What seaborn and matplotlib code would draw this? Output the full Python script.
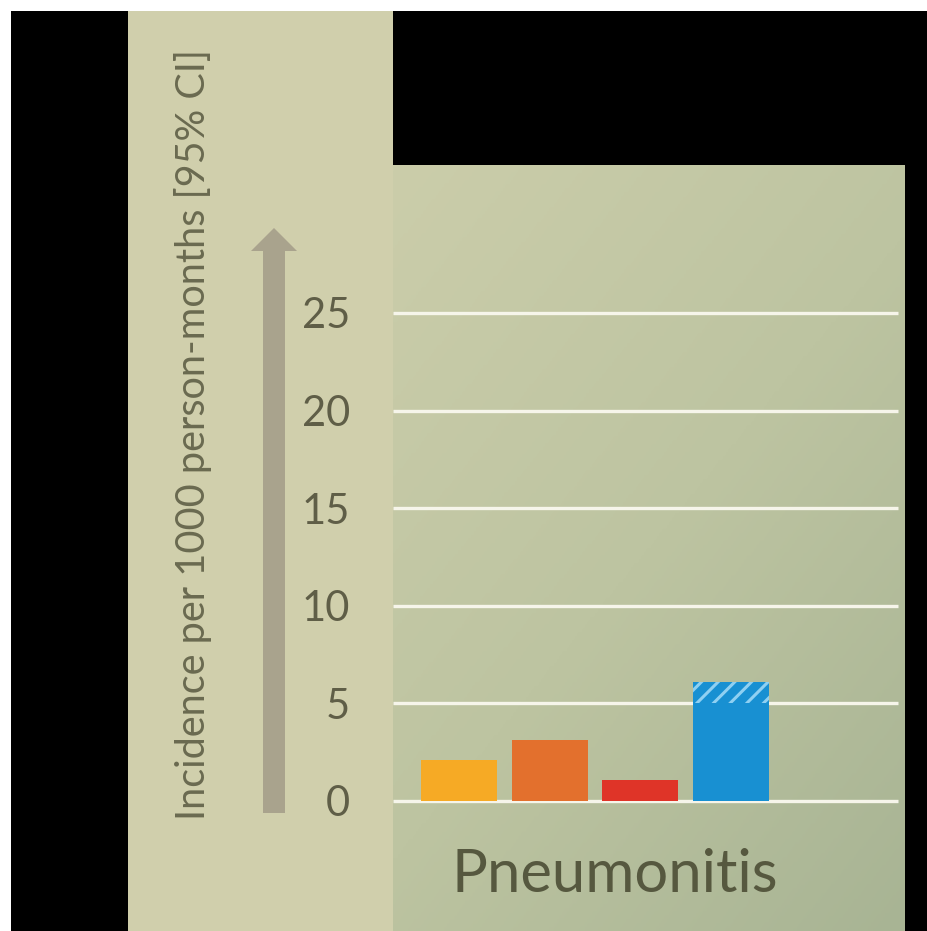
import numpy as np
import matplotlib
matplotlib.use("Agg")
import matplotlib.pyplot as plt
from matplotlib.patches import Rectangle, FancyArrow
from matplotlib.colors import LinearSegmentedColormap
import seaborn as sns

# Incidence per 1000 person-months for the four treatment groups
groups = ["Group 1", "Group 2", "Group 3", "Group 4"]
incidence = [2.1, 3.1, 1.1, 6.1]
ci_band_low = [None, None, None, 5.0]   # hatched upper segment of the last bar
bar_colors = ["#F6AA25", "#E3702D", "#DF3428", "#1890D2"]
tick_values = [0, 5, 10, 15, 20, 25]
tick_labels = ["0", "5", "10", "15", "20", "25"]
category_title = "Pneumonitis"
axis_title = "Incidence per 1000 person-months [95% CI]"

W, H = 927, 931
DPI = 100
sns.set_theme(style="white")
plt.rcParams["font.family"] = ["Lato", "DejaVu Sans"]
plt.rcParams["hatch.linewidth"] = 2.2

fig = plt.figure(figsize=(W / DPI, H / DPI), dpi=DPI, facecolor="white")


def fx(px):
    return px / W


def fy(py):
    return 1 - py / H


# framing panels
fig.patches.append(Rectangle((fx(11), 0), fx(927 - 11), fy(11), transform=fig.transFigure,
                             facecolor="black", edgecolor="none", zorder=0))
fig.patches.append(Rectangle((fx(128), 0), fx(393 - 128), fy(11), transform=fig.transFigure,
                             facecolor="#D0CFAC", edgecolor="none", zorder=1))

ax = fig.add_axes([fx(393), 0, fx(905 - 393), fy(165)])
ax.set_zorder(2)

# soft panel gradient
gx = np.linspace(0, 1, 200)
gy = np.linspace(0, 1, 200)
GX, GY = np.meshgrid(gx, gy)
shade = 0.55 * GY + 0.45 * GX
cmap = LinearSegmentedColormap.from_list("panel", ["#CBCDAA", "#BDC4A1", "#A8B494"])

px_per_unit = (801 - 313) / 25.0
ymax = (801 - 165) / px_per_unit
ymin = -(931 - 801) / px_per_unit
slot = 90.7
xmin = -(459 - 393) / slot
xmax = (905 - 459) / slot

ax.imshow(shade, cmap=cmap, extent=[xmin, xmax, ymin, ymax], origin="upper",
          aspect="auto", zorder=0)

for v in tick_values:
    ax.hlines(v, xmin, xmin + (898 - 393) / slot, colors="#F6F5EA", linewidth=2.4, zorder=1)

sns.barplot(x=groups, y=incidence, hue=groups, palette=bar_colors, legend=False,
            width=76 / slot, saturation=1, ax=ax, zorder=3, linewidth=0)

for i, (lo, hi) in enumerate(zip(ci_band_low, incidence)):
    if lo is not None:
        ax.bar(i, hi - lo, bottom=lo, width=76 / slot, color=bar_colors[i],
               hatch="//", edgecolor="#8FD0F2", linewidth=0, zorder=4)

ax.set_xlim(xmin, xmax)
ax.set_ylim(ymin, ymax)
ax.set_xticks([])
ax.set_yticks(tick_values, tick_labels)
ax.tick_params(axis="y", length=0, pad=31, labelsize=30, labelcolor="#5F5E47")
for s in ax.spines.values():
    s.set_visible(False)
ax.set_xlabel("")
ax.set_ylabel("")

# arrow alongside the tick labels
arrow_x = 274
fig.patches.append(FancyArrow(fx(arrow_x), fy(813), 0, fy(228) - fy(813),
                              width=fx(22), head_width=fx(46), head_length=fy(228) - fy(251),
                              length_includes_head=True, transform=fig.transFigure,
                              facecolor="#A9A38D", edgecolor="none", zorder=2))

fig.text(fx(193), fy(434), axis_title, rotation=90, ha="center", va="center",
         fontsize=28.5, color="#6A6A50", zorder=3)
fig.text(fx(615), fy(892), category_title, ha="center", va="baseline",
         fontsize=43, color="#56583F", zorder=3)

fig.savefig("out.png", dpi=DPI, facecolor="white")
